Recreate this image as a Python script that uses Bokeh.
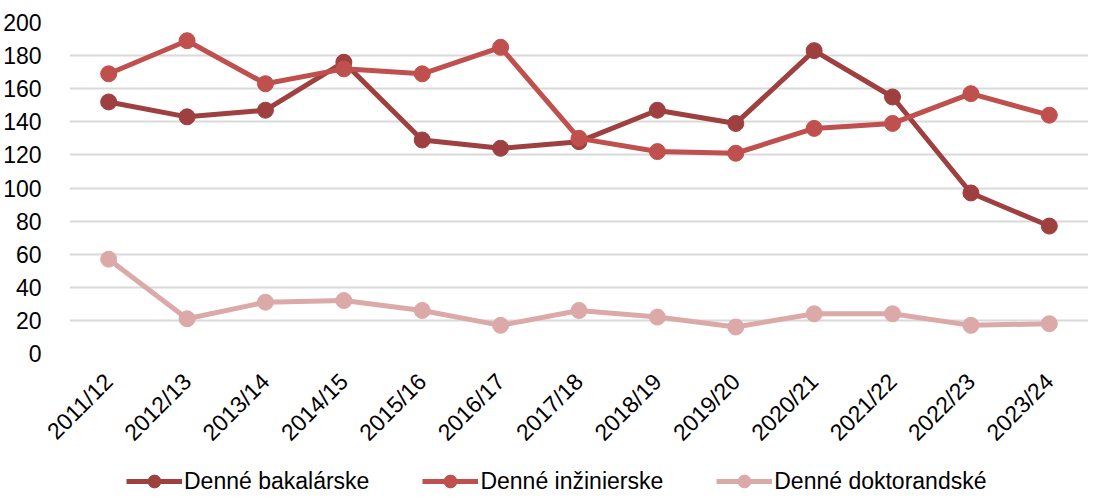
from bokeh.plotting import figure
from bokeh.layouts import column
from bokeh.models import ColumnDataSource, Legend, LegendItem, FactorRange, SingleIntervalTicker
from bokeh.embed import file_html
from bokeh.resources import INLINE
import math

years = ["2011/12", "2012/13", "2013/14", "2014/15", "2015/16", "2016/17", "2017/18",
         "2018/19", "2019/20", "2020/21", "2021/22", "2022/23", "2023/24"]
bakalarske = [152, 143, 147, 176, 129, 124, 128, 147, 139, 183, 155, 97, 77]
inzinierske = [169, 189, 163, 172, 169, 185, 130, 122, 121, 136, 139, 157, 144]
doktorandske = [57, 21, 31, 32, 26, 17, 26, 22, 16, 24, 24, 17, 18]

names = ["Denné bakalárske", "Denné inžinierske", "Denné doktorandské"]
series = [bakalarske, inzinierske, doktorandske]
colors = ["#9E4040", "#C0504D", "#DCA9A9"]

FONT = "Liberation Sans"
FS = "23px"

p = figure(width=1088, height=457, x_range=FactorRange(*years), y_range=(0, 200),
           output_backend="svg", toolbar_location=None,
           min_border_left=61, min_border_right=0, min_border_top=22, min_border_bottom=104)
p.outline_line_color = None
p.background_fill_color = "white"
p.border_fill_color = "white"

p.xgrid.grid_line_color = None
p.ygrid.grid_line_color = "#D9D9D9"
p.ygrid.grid_line_width = 2
p.yaxis.ticker = SingleIntervalTicker(interval=20)

for ax in (p.xaxis, p.yaxis):
    ax.axis_line_color = None
    ax.major_tick_line_color = None
    ax.minor_tick_line_color = None
    ax.major_label_text_font = FONT
    ax.major_label_text_font_size = FS
    ax.major_label_text_color = "#000000"
p.yaxis.major_label_standoff = 22
p.xaxis.major_label_standoff = 18
p.xaxis.major_label_orientation = math.pi / 4
p.x_range.range_padding = 0
p.x_range.group_padding = 0

for name, vals, col in zip(names, series, colors):
    src = ColumnDataSource(dict(x=years, y=vals))
    p.line("x", "y", source=src, line_color=col, line_width=5)
    p.scatter("x", "y", source=src, size=16, fill_color=col, line_color=col)

# legend strip below the chart (keys only; the NaN point draws nothing)
lg = figure(width=1088, height=40, x_range=(0, 1), y_range=(0, 1),
            output_backend="svg", toolbar_location=None,
            x_axis_type=None, y_axis_type=None,
            min_border_left=0, min_border_right=0, min_border_top=0, min_border_bottom=0)
lg.outline_line_color = None
lg.grid.grid_line_color = None
items = []
for name, col in zip(names, colors):
    key_src = ColumnDataSource(dict(x=[float("nan")], y=[float("nan")]))
    r1 = lg.line("x", "y", source=key_src, line_color=col, line_width=5)
    r2 = lg.scatter("x", "y", source=key_src, size=16, fill_color=col, line_color=col)
    items.append(LegendItem(label=name, renderers=[r1, r2]))

legend = Legend(items=items, orientation="horizontal", location=(57, 0),
                label_text_font=FONT, label_text_font_size=FS, label_text_color="#000000",
                glyph_width=56, glyph_height=32, label_standoff=2, spacing=53,
                padding=0, margin=0, border_line_color=None, background_fill_alpha=0)
lg.add_layout(legend)

layout = column(p, lg, spacing=0)
open("out.html", "w").write(file_html(layout, INLINE))
